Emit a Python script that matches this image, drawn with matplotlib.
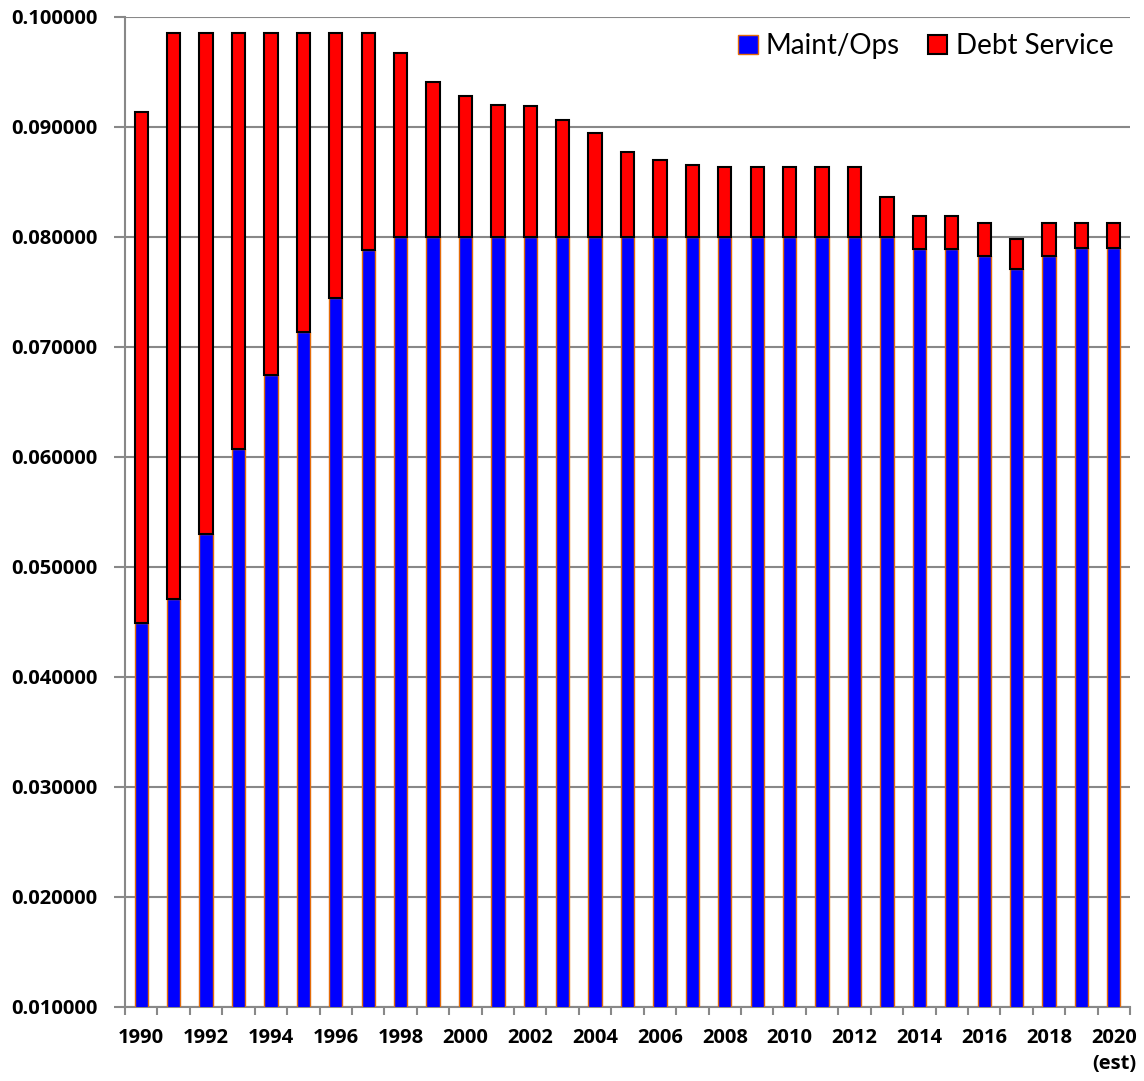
import numpy as np
import matplotlib
matplotlib.use("Agg")
import matplotlib.pyplot as plt

YEARS = list(range(1990, 2021))

# total rate (Maint/Ops + Debt Service)
TOTAL = [0.0913, 0.0985, 0.0985, 0.0985, 0.0985, 0.0985, 0.0985, 0.0985,
         0.0967, 0.0941, 0.0928, 0.0920, 0.0919, 0.0906, 0.0894, 0.0877,
         0.0870, 0.0865, 0.0863, 0.0863, 0.0863, 0.0863, 0.0863, 0.0836,
         0.0819, 0.0819, 0.0812, 0.0798, 0.0812, 0.0812, 0.0812]

MAINT_OPS = [0.0449, 0.0471, 0.0530, 0.0607, 0.0674, 0.0713, 0.0744, 0.0788,
             0.0800, 0.0800, 0.0800, 0.0800, 0.0800, 0.0800, 0.0800, 0.0800,
             0.0800, 0.0800, 0.0800, 0.0800, 0.0800, 0.0800, 0.0800, 0.0800,
             0.0789, 0.0789, 0.0782, 0.0771, 0.0782, 0.0790, 0.0790]

DEBT_SERVICE = [t - m for t, m in zip(TOTAL, MAINT_OPS)]

TICK_LABELS = [str(y) if (y - 1990) % 2 == 0 else "" for y in YEARS]
TICK_LABELS[-1] = "2020\n(est)"

plt.rcParams["font.family"] = ["Lato", "DejaVu Sans"]
TICK_FONT = ["Open Sans", "DejaVu Sans"]

fig = plt.figure(figsize=(11.44, 10.81), dpi=100)
ax = fig.add_axes([0.1093, 0.0687, 0.8785, 0.9159])

x = np.arange(len(YEARS))
w = 0.41
ax.bar(x, MAINT_OPS, w, color="#0000FF", edgecolor="#E36C09", linewidth=1.0,
       label="Maint/Ops", zorder=3)
ax.bar(x, DEBT_SERVICE, w, bottom=MAINT_OPS, color="#FF0000", edgecolor="black",
       linewidth=1.5, label="Debt Service", zorder=3)

ax.set_ylim(0.01, 0.1)
ax.set_xlim(-0.5, len(YEARS) - 0.5)
ax.set_yticks(np.arange(0.01, 0.1001, 0.01))
ax.yaxis.set_major_formatter(matplotlib.ticker.FormatStrFormatter("%.6f"))
ax.grid(axis="y", color="#888888", linewidth=1.5, zorder=0)
ax.set_axisbelow(True)

ax.set_xticks(x)
ax.set_xticklabels(TICK_LABELS, fontsize=14.5, fontweight="bold", linespacing=1.45,
                   family=TICK_FONT)
ax.set_xticks(np.arange(-0.5, len(YEARS), 1.0), minor=True)
ax.tick_params(axis="x", which="major", length=0, pad=15)
ax.tick_params(axis="x", which="minor", length=6, color="#888888", width=1.5)
for lab in ax.get_xticklabels():
    lab.set_multialignment("right")
ax.tick_params(axis="y", length=8, color="#888888", width=1.5, pad=12)
for lab in ax.get_yticklabels():
    lab.set_fontweight("bold")
    lab.set_fontsize(14.5)
    lab.set_family(TICK_FONT)

for s in ("top", "right"):
    ax.spines[s].set_visible(False)
for s in ("left", "bottom"):
    ax.spines[s].set_color("#888888")
    ax.spines[s].set_linewidth(1.5)

ax.legend(loc="upper right", ncol=2, frameon=False, fontsize=20,
          handlelength=0.7, handleheight=0.7, handletextpad=0.3,
          columnspacing=1.0, bbox_to_anchor=(1.0, 1.0), borderaxespad=0.2)

fig.savefig("out.png", dpi=100)
